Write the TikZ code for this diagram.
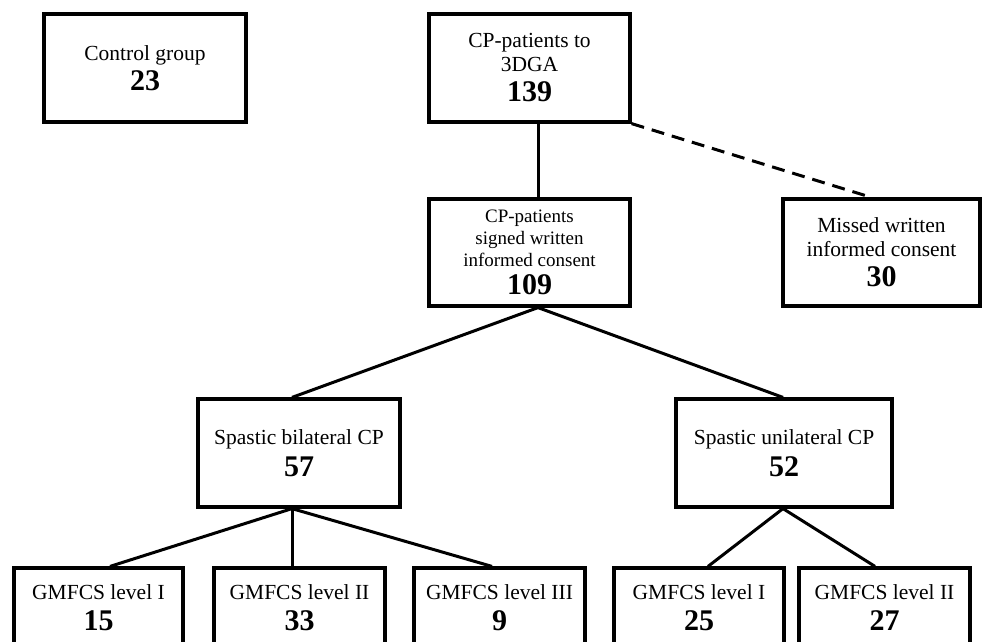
\documentclass[tikz,border=0pt]{standalone}
\usepackage{fontspec}
\setmainfont{Liberation Serif}
\newcommand{\nbr}[1]{{\fontsize{30}{30}\selectfont\bfseries #1}}
\begin{document}
\begin{tikzpicture}[x=1pt, y=-1pt]
			\tikzset{boite/.style={rectangle, draw=black, line width=3.2pt, inner sep=0pt, align=center, font=\fontsize{21.5}{24}\selectfont}, lien/.style={line width=3pt}};

			\useasboundingbox (0,0) rectangle (982,641);
			\clip (0,0) rectangle (982,641);

			\node[boite, minimum width=202, minimum height=108] (ctrl) at ( 145,   68) {Control group\\[5pt]\nbr{23}};
			\node[boite, minimum width=201, minimum height=108] (cp)   at (529.5,  68) {CP-patients to\\3DGA\\[6pt]\nbr{139}};
			\node[boite, minimum width=201, minimum height=107, font=\fontsize{19}{22}\selectfont] (sig) at (529.5, 252.5) {CP-patients\\signed written\\informed consent\\[6pt]\nbr{109}};
			\node[boite, minimum width=197, minimum height=107] (mis)  at (881.5, 252.5) {Missed written\\informed consent\\[6pt]\nbr{30}};

			\node[boite, minimum width=202, minimum height=108] (bil)  at ( 299,  453) {Spastic bilateral CP\\[7pt]\nbr{57}};
			\node[boite, minimum width=216, minimum height=108] (uni)  at ( 784,  453) {Spastic unilateral CP\\[7pt]\nbr{52}};

			\node[boite, minimum width=169, minimum height=80] (bI)   at ( 98.5, 608) {GMFCS level I\\[7pt]\nbr{15}};
			\node[boite, minimum width=171, minimum height=80] (bII)  at (299.5, 608) {GMFCS level II\\[7pt]\nbr{33}};
			\node[boite, minimum width=171, minimum height=80] (bIII) at (499.5, 608) {GMFCS level III\\[7pt]\nbr{9}};
			\node[boite, minimum width=170, minimum height=80] (uI)   at ( 699,  608) {GMFCS level I\\[7pt]\nbr{25}};
			\node[boite, minimum width=171, minimum height=80] (uII)  at (884.5, 608) {GMFCS level II\\[7pt]\nbr{27}};

			\draw[lien] ([xshift=8.5pt]cp.south) to ([xshift=8.5pt]sig.north);
			\draw[lien, dash pattern=on 13pt off 8pt] (cp.south east) to ([xshift=-10pt]mis.north);

			\draw[lien] ([xshift=8.5pt]sig.south) to ([xshift=-7pt]bil.north);
			\draw[lien] ([xshift=8.5pt]sig.south) to ([xshift=-1pt]uni.north);

			\draw[lien] ([xshift=-7pt]bil.south) to ([xshift=11.5pt]bI.north);
			\draw[lien] ([xshift=-7pt]bil.south) to ([xshift=-7.5pt]bII.north);
			\draw[lien] ([xshift=-7pt]bil.south) to ([xshift=-7.5pt]bIII.north);
			\draw[lien] ([xshift=-1pt]uni.south) to ([xshift=9pt]uI.north);
			\draw[lien] ([xshift=-1pt]uni.south) to ([xshift=-9.5pt]uII.north);

		\end{tikzpicture}
\end{document}
